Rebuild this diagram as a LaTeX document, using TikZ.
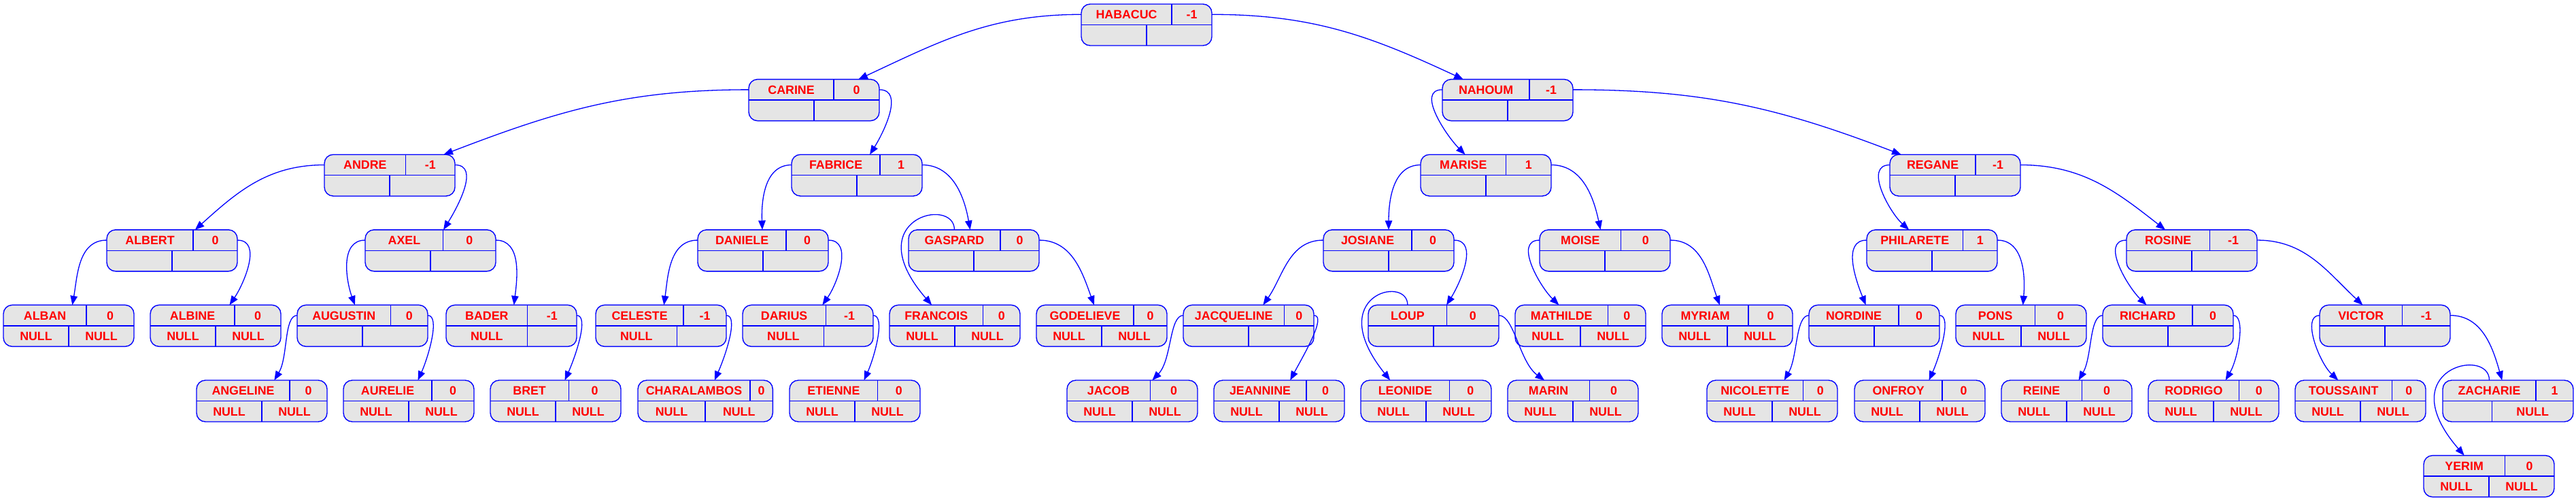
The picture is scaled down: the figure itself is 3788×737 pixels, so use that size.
\documentclass[tikz,border=0pt]{standalone}
\usepackage{fontspec}
\setmainfont{Liberation Sans}
\usetikzlibrary{arrows.meta}
\newdimen\namewd
\newdimen\balwd
\newdimen\leftwd
\newdimen\rightwd
\newcommand\recfont{\fontsize{17.8}{20}\selectfont\bfseries}
% width of a cell text, measured outside the picture font setup
\newcommand\cellwd[2]{%
  \pgfinterruptpicture\setbox0\hbox{\recfont #2}\global#1=\wd0\endpgfinterruptpicture}
\tikzset{
  recbox/.style={rectangle, draw=blue, fill=black!10, line width=1.4pt, rounded corners=13pt, minimum height=61pt, inner sep=0pt, outer sep=0pt},
  reccell/.style={rectangle, inner sep=0pt, outer sep=0pt, minimum height=30.5pt, text=red, font=\recfont, text height=12.7pt, text depth=0pt},
  recline/.style={draw=blue, line width=1.4pt},
  link/.style={draw=blue, line width=1.3pt, -{Triangle[length=13.5pt, width=10.5pt]}},
  shortlink/.style={link, out looseness=0.5},
}
% record node: id, left x, level, name, balance, left link, right link
\newcommand\recnode[7]{%
  \cellwd\namewd{#4}%
  \cellwd\balwd{#5}%
  \cellwd\leftwd{#6}%
  \cellwd\rightwd{#7}%
  \pgfmathsetmacro\recW{max(192,\namewd+\balwd+47)}%
  \pgfmathsetmacro\recT{-6-110.6*#3}%
  \pgfmathsetmacro\recA{(\recW+\namewd-\balwd)/2}%
  \pgfmathsetmacro\recC{\recW-\recA}%
  \pgfmathsetmacro\recB{(\recW+\leftwd-\rightwd)/2}%
  \pgfmathsetmacro\recD{\recW-\recB}%
  \node[recbox, minimum width=\recW pt, anchor=north west] (#1) at (#2,\recT) {};
  \node[reccell, minimum width=\recA pt, anchor=north west] (#1-n) at (#2,\recT) {#4};
  \node[reccell, minimum width=\recC pt, anchor=west] (#1-b) at (#1-n.east) {#5};
  \node[reccell, minimum width=\recB pt, anchor=north west] (#1-l) at (#1-n.south west) {#6};
  \node[reccell, minimum width=\recD pt, anchor=west] (#1-r) at (#1-l.east) {#7};
  \draw[recline] (#1.west) -- (#1.east);
  \draw[recline] (#1-n.north east) -- (#1-n.south east);
  \draw[recline] (#1-l.north east) -- (#1-l.south east);
}

\begin{document}
\begin{tikzpicture}[x=1pt, y=1pt]
  \useasboundingbox (0,0) rectangle (3788,-737);

  % level 0 and 1
  \recnode{habacuc}{1590}{0}{HABACUC}{-1}{}{}
  \recnode{carine}{1101}{1}{CARINE}{0}{}{}
  \recnode{nahoum}{2121}{1}{NAHOUM}{-1}{}{}

  % level 2
  \recnode{andre}{477}{2}{ANDRE}{-1}{}{}
  \recnode{fabrice}{1164}{2}{FABRICE}{1}{}{}
  \recnode{marise}{2089}{2}{MARISE}{1}{}{}
  \recnode{regane}{2779}{2}{REGANE}{-1}{}{}

  % level 3
  \recnode{albert}{157}{3}{ALBERT}{0}{}{}
  \recnode{axel}{537}{3}{AXEL}{0}{}{}
  \recnode{daniele}{1026}{3}{DANIELE}{0}{}{}
  \recnode{gaspard}{1336}{3}{GASPARD}{0}{}{}
  \recnode{josiane}{1946}{3}{JOSIANE}{0}{}{}
  \recnode{moise}{2264}{3}{MOISE}{0}{}{}
  \recnode{philarete}{2745}{3}{PHILARETE}{1}{}{}
  \recnode{rosine}{3127}{3}{ROSINE}{-1}{}{}

  % level 4
  \recnode{alban}{5}{4}{ALBAN}{0}{NULL}{NULL}
  \recnode{albine}{221}{4}{ALBINE}{0}{NULL}{NULL}
  \recnode{augustin}{437}{4}{AUGUSTIN}{0}{}{}
  \recnode{bader}{656}{4}{BADER}{-1}{NULL}{}
  \recnode{celeste}{876}{4}{CELESTE}{-1}{NULL}{}
  \recnode{darius}{1092}{4}{DARIUS}{-1}{NULL}{}
  \recnode{francois}{1308}{4}{FRANCOIS}{0}{NULL}{NULL}
  \recnode{godelieve}{1524}{4}{GODELIEVE}{0}{NULL}{NULL}
  \recnode{jacqueline}{1740}{4}{JACQUELINE}{0}{}{}
  \recnode{loup}{2012}{4}{LOUP}{0}{}{}
  \recnode{mathilde}{2228}{4}{MATHILDE}{0}{NULL}{NULL}
  \recnode{myriam}{2444}{4}{MYRIAM}{0}{NULL}{NULL}
  \recnode{nordine}{2660}{4}{NORDINE}{0}{}{}
  \recnode{pons}{2876}{4}{PONS}{0}{NULL}{NULL}
  \recnode{richard}{3092}{4}{RICHARD}{0}{}{}
  \recnode{victor}{3411}{4}{VICTOR}{-1}{}{}

  % level 5
  \recnode{angeline}{289}{5}{ANGELINE}{0}{NULL}{NULL}
  \recnode{aurelie}{505}{5}{AURELIE}{0}{NULL}{NULL}
  \recnode{bret}{721}{5}{BRET}{0}{NULL}{NULL}
  \recnode{charalambos}{938}{5}{CHARALAMBOS}{0}{NULL}{NULL}
  \recnode{etienne}{1161}{5}{ETIENNE}{0}{NULL}{NULL}
  \recnode{jacob}{1569}{5}{JACOB}{0}{NULL}{NULL}
  \recnode{jeannine}{1785}{5}{JEANNINE}{0}{NULL}{NULL}
  \recnode{leonide}{2001}{5}{LEONIDE}{0}{NULL}{NULL}
  \recnode{marin}{2217}{5}{MARIN}{0}{NULL}{NULL}
  \recnode{nicolette}{2510}{5}{NICOLETTE}{0}{NULL}{NULL}
  \recnode{onfroy}{2727}{5}{ONFROY}{0}{NULL}{NULL}
  \recnode{reine}{2943}{5}{REINE}{0}{NULL}{NULL}
  \recnode{rodrigo}{3159}{5}{RODRIGO}{0}{NULL}{NULL}
  \recnode{toussaint}{3375}{5}{TOUSSAINT}{0}{NULL}{NULL}
  \recnode{zacharie}{3592}{5}{ZACHARIE}{1}{}{NULL}

  % level 6
  \recnode{yerim}{3564}{6}{YERIM}{0}{NULL}{NULL}

  % left links
  \draw[link] (habacuc-n.west) to[out=180, in=25] (carine);
  \draw[link] (carine-n.west) to[out=180, in=21] (andre);
  \draw[link] (nahoum-n.west) to[out=180, in=135] (marise);
  \draw[link] (andre-n.west) to[out=180, in=42] (albert);
  \draw[link] (fabrice-n.west) to[out=180, in=92] (daniele);
  \draw[link] (marise-n.west) to[out=180, in=90] (josiane);
  \draw[link] (regane-n.west) to[out=180, in=138] (philarete);
  \draw[link] (albert-n.west) to[out=180, in=80] (alban);
  \draw[link] (axel-n.west) to[out=180, in=110] (augustin);
  \draw[link] (daniele-n.west) to[out=180, in=82] (celeste);
  \draw[link] (josiane-n.west) to[out=180, in=55] (jacqueline);
  \draw[link] (moise-n.west) to[out=180, in=136] (mathilde);
  \draw[link] (philarete-n.west) to[out=180, in=112] (nordine);
  \draw[link] (rosine-n.west) to[out=180, in=136] (richard);
  \draw[shortlink] (augustin-n.west) to[out=180, in=59] (angeline);
  \draw[shortlink] (jacqueline-n.west) to[out=180, in=46] (jacob);
  \draw[shortlink] (nordine-n.west) to[out=180, in=60] (nicolette);
  \draw[shortlink] (richard-n.west) to[out=180, in=60] (reine);
  \draw[link, out looseness=0.7] (victor-n.west) to[out=180, in=137] (toussaint);

  % right links
  \draw[link] (habacuc-b.east) to[out=0, in=155] (nahoum);
  \draw[link] (carine-b.east) to[out=0, in=58] (fabrice);
  \draw[link] (nahoum-b.east) to[out=0, in=159] (regane);
  \draw[link] (andre-b.east) to[out=0, in=58] (axel);
  \draw[link] (fabrice-b.east) to[out=0, in=100] (gaspard);
  \draw[link] (marise-b.east) to[out=0, in=102] (moise);
  \draw[link] (regane-b.east) to[out=0, in=142] (rosine);
  \draw[link] (albert-b.east) to[out=0, in=56] (albine);
  \draw[link] (axel-b.east) to[out=0, in=83] (bader);
  \draw[link] (daniele-b.east) to[out=0, in=55] (darius);
  \draw[link] (gaspard-b.east) to[out=0, in=110] (godelieve);
  \draw[link] (josiane-b.east) to[out=0, in=58] (loup);
  \draw[link] (moise-b.east) to[out=0, in=110] (myriam);
  \draw[link] (philarete-b.east) to[out=0, in=85] (pons);
  \draw[link] (rosine-b.east) to[out=0, in=137] (victor);
  \draw[shortlink] (augustin-b.east) to[out=0, in=66] (aurelie);
  \draw[shortlink] (bader-b.east) to[out=0, in=66] (bret);
  \draw[shortlink] (celeste-b.east) to[out=0, in=66] (charalambos);
  \draw[shortlink] (darius-b.east) to[out=0, in=66] (etienne);
  \draw[shortlink] (jacqueline-b.east) to[out=0, in=62] (jeannine);
  \draw[shortlink] (loup-b.east) to[out=0, in=144] (marin);
  \draw[shortlink] (nordine-b.east) to[out=0, in=66] (onfroy);
  \draw[shortlink] (richard-b.east) to[out=0, in=60] (rodrigo);
  \draw[link] (victor-b.east) to[out=0, in=106] (zacharie);

  % links leaving from the top
  \draw[link] (gaspard-n.north) .. controls +(0,50) and +(-110,127) .. (francois.138);
  \draw[link] (loup-n.north) .. controls +(0,45) and +(-100,125) .. (leonide.150);
  \draw[link] (zacharie-n.north) .. controls +(0,50) and +(-110,127) .. (yerim.140);
\end{tikzpicture}
\end{document}
